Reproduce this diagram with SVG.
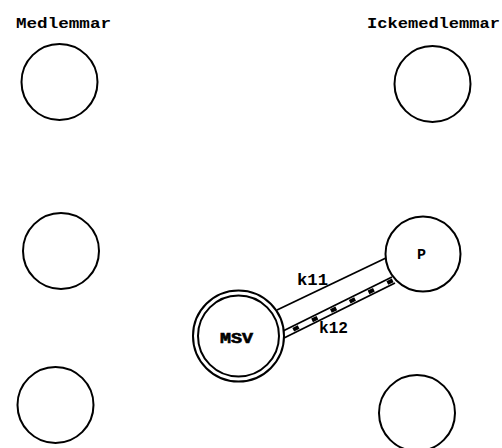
<svg xmlns="http://www.w3.org/2000/svg" width="502" height="448" viewBox="0 0 502 448">
<style>
.n{fill:#fff;stroke:#000;stroke-width:2}
.t{font-family:"Liberation Mono","DejaVu Sans Mono",monospace;font-weight:bold;fill:#000}
.c{stroke:#000;stroke-width:1.8;fill:none}
</style>
<rect width="502" height="448" fill="#fff"/>
<text class="t" x="16" y="28" font-size="15" textLength="95" lengthAdjust="spacingAndGlyphs">Medlemmar</text>
<text class="t" x="367" y="28" font-size="15" textLength="133" lengthAdjust="spacingAndGlyphs">Ickemedlemmar</text>
<g id="connectors">
<line class="c" x1="277" y1="310" x2="388" y2="257"/>
<line class="c" x1="281" y1="332" x2="392" y2="277"/>
<line class="c" x1="284" y1="338" x2="395" y2="283"/>
<line x1="282.5" y1="335" x2="393.5" y2="280" stroke="#000" stroke-width="4" stroke-dasharray="6 15" stroke-dashoffset="-12"/>
<text class="t" x="297" y="285" font-size="16" textLength="31" lengthAdjust="spacingAndGlyphs">k11</text>
<text class="t" x="319" y="333" font-size="16" textLength="29" lengthAdjust="spacingAndGlyphs">k12</text>
</g>
<g id="m1"><circle class="n" cx="59.5" cy="82" r="38"/></g>
<g id="m2"><circle class="n" cx="61" cy="251" r="38"/></g>
<g id="m3"><circle class="n" cx="55.5" cy="405" r="38"/></g>
<g id="i1"><circle class="n" cx="432.5" cy="84" r="38"/></g>
<g id="i3"><circle class="n" cx="417" cy="413" r="38"/></g>
<g id="P"><circle class="n" cx="423" cy="254" r="37.5"/>
<text class="t" x="421.5" y="259" font-size="15" text-anchor="middle">P</text></g>
<g id="MSV"><circle class="n" cx="238.5" cy="336" r="45.5"/><circle class="n" cx="238.5" cy="336" r="40.5"/>
<text class="t" x="220" y="343" font-size="15" textLength="33" lengthAdjust="spacingAndGlyphs" stroke="#000" stroke-width="0.6">MSV</text></g>
</svg>
